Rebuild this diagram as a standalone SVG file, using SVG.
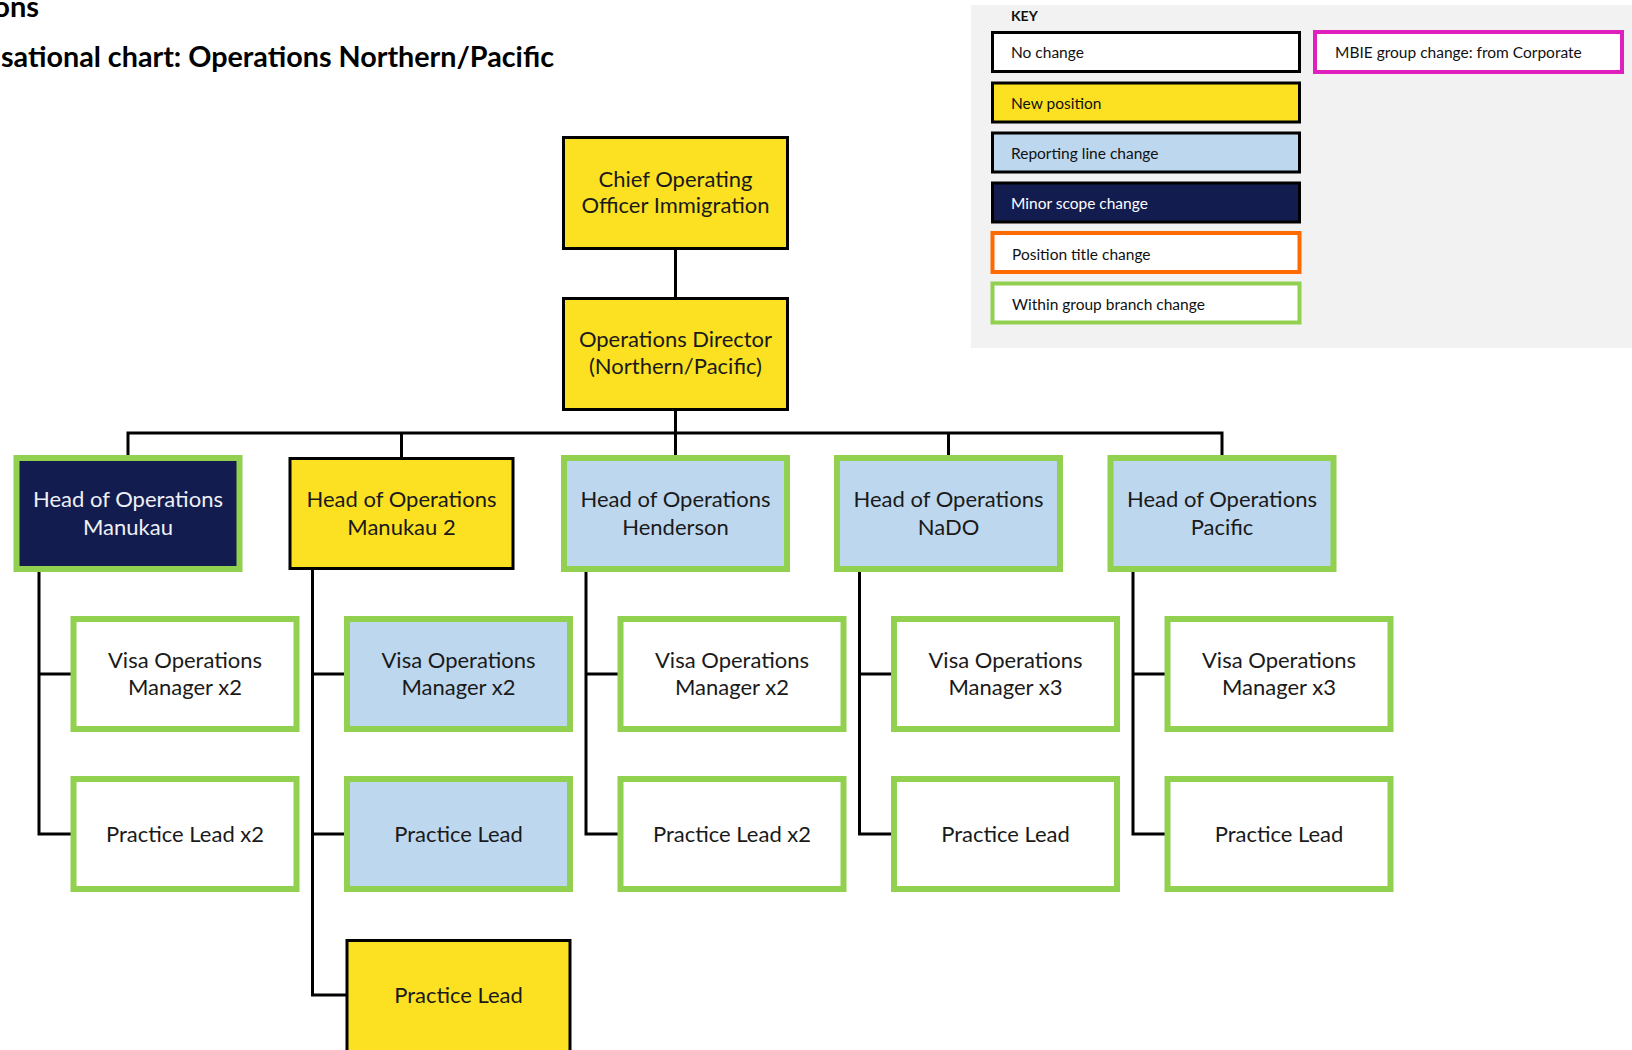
<svg xmlns="http://www.w3.org/2000/svg" width="1632" height="1050" viewBox="0 0 1632 1050">
  <style>
    .title { font-family: "Lato", "Liberation Sans", sans-serif; font-weight: bold; font-size: 29px; fill: #000; }
    .lbl { font-family: "Lato", "Liberation Sans", sans-serif; font-size: 22px; fill: #1a1a1a; text-anchor: middle; }
    .lbl.light { fill: #eef0f6; }
    .key { font-family: "Lato", "Liberation Sans", sans-serif; font-size: 15.5px; fill: #111; }
    .keyhead { font-family: "Lato", "Liberation Sans", sans-serif; font-size: 14px; font-weight: bold; fill: #111; }
    .yellow { fill: #FBE122; stroke: #000; stroke-width: 3; }
    .blue-g { fill: #BDD7EE; stroke: #92D050; stroke-width: 6; }
    .white-g { fill: #fff; stroke: #92D050; stroke-width: 6; }
    .navy-g { fill: #121C4E; stroke: #92D050; stroke-width: 6; }
    .conn { fill: none; stroke: #000; stroke-width: 3; }
    .k-white { fill: #fff; stroke: #000; stroke-width: 3; }
    .k-yellow { fill: #FBE122; stroke: #000; stroke-width: 3; }
    .k-blue { fill: #BDD7EE; stroke: #000; stroke-width: 3; }
    .k-navy { fill: #121C4E; stroke: #000; stroke-width: 3; }
    .k-orange { fill: #fff; stroke: #FF6A00; stroke-width: 4; }
    .k-green { fill: #fff; stroke: #92D050; stroke-width: 4; }
    .k-magenta { fill: #fff; stroke: #E01FBF; stroke-width: 4; }
  </style>

  <rect width="1632" height="1050" fill="#fff"/>

  <!-- heading -->
  <text class="title" x="39" y="17" text-anchor="end">ons</text>
  <text class="title" x="1" y="67" textLength="553" lengthAdjust="spacingAndGlyphs">sational chart: Operations Northern/Pacific</text>

  <!-- key panel -->
  <g id="key">
    <rect x="971" y="5" width="661" height="343" fill="#F2F2F2"/>
    <text class="keyhead" x="1011" y="21">KEY</text>
    <rect class="k-white" x="992.5" y="32.5" width="307" height="39"/>
    <text class="key" x="1011" y="58">No change</text>
    <rect class="k-yellow" x="992.5" y="83" width="307" height="39"/>
    <text class="key" x="1011" y="109">New position</text>
    <rect class="k-blue" x="992.5" y="133" width="307" height="39"/>
    <text class="key" x="1011" y="159">Reporting line change</text>
    <rect class="k-navy" x="992.5" y="183" width="307" height="39"/>
    <text class="key" x="1011" y="209" style="fill:#fff">Minor scope change</text>
    <rect class="k-orange" x="992.5" y="233" width="307" height="39"/>
    <text class="key" x="1012" y="260">Position title change</text>
    <rect class="k-green" x="992.5" y="283.5" width="307" height="39"/>
    <text class="key" x="1012" y="310">Within group branch change</text>
    <rect class="k-magenta" x="1315" y="32" width="307" height="40"/>
    <text class="key" x="1335" y="58">MBIE group change: from Corporate</text>
  </g>

  <!-- reporting lines -->
  <g id="connectors">
    <path class="conn" d="M675.5 250 V298.5"/>
    <path class="conn" d="M675.5 409.5 V433"/>
    <path class="conn" d="M128 458 V433 H1222 V458"/>
    <path class="conn" d="M401.5 433 V458"/>
    <path class="conn" d="M675.5 433 V458"/>
    <path class="conn" d="M948.5 433 V458"/>
    <!-- branch spines -->
    <path class="conn" d="M39 569 V834 H73"/>
    <path class="conn" d="M39 674 H73"/>
    <path class="conn" d="M312.5 569 V995 H348"/>
    <path class="conn" d="M312.5 674 H347"/>
    <path class="conn" d="M312.5 834 H347"/>
    <path class="conn" d="M586 569 V834 H620"/>
    <path class="conn" d="M586 674 H620"/>
    <path class="conn" d="M859.5 569 V834 H894"/>
    <path class="conn" d="M859.5 674 H894"/>
    <path class="conn" d="M1133 569 V834 H1167"/>
    <path class="conn" d="M1133 674 H1167"/>
  </g>

  <!-- top of structure -->
  <g id="coo">
    <rect class="yellow" x="563.5" y="137.5" width="224" height="111"/>
    <text class="lbl" x="675.5" y="187">Chief Operating</text>
    <text class="lbl" x="675.5" y="213">Officer Immigration</text>
  </g>
  <g id="ops-director">
    <rect class="yellow" x="563.5" y="298.5" width="224" height="111"/>
    <text class="lbl" x="675.5" y="347">Operations Director</text>
    <text class="lbl" x="675.5" y="374">(Northern/Pacific)</text>
  </g>

  <!-- heads of operations -->
  <g id="head-manukau">
    <rect class="navy-g" x="16.5" y="458" width="223" height="111"/>
    <text class="lbl light" x="128" y="507">Head of Operations</text>
    <text class="lbl light" x="128" y="535">Manukau</text>
  </g>
  <g id="head-manukau-2">
    <rect class="yellow" x="290" y="458.5" width="223" height="110"/>
    <text class="lbl" x="401.5" y="507">Head of Operations</text>
    <text class="lbl" x="401.5" y="535">Manukau 2</text>
  </g>
  <g id="head-henderson">
    <rect class="blue-g" x="564" y="458" width="223" height="111"/>
    <text class="lbl" x="675.5" y="507">Head of Operations</text>
    <text class="lbl" x="675.5" y="535">Henderson</text>
  </g>
  <g id="head-nado">
    <rect class="blue-g" x="837" y="458" width="223" height="111"/>
    <text class="lbl" x="948.5" y="507">Head of Operations</text>
    <text class="lbl" x="948.5" y="535">NaDO</text>
  </g>
  <g id="head-pacific">
    <rect class="blue-g" x="1110.5" y="458" width="223" height="111"/>
    <text class="lbl" x="1222" y="507">Head of Operations</text>
    <text class="lbl" x="1222" y="535">Pacific</text>
  </g>

  <!-- Manukau team -->
  <g id="manukau-vom">
    <rect class="white-g" x="73.5" y="619" width="223" height="110"/>
    <text class="lbl" x="185" y="668">Visa Operations</text>
    <text class="lbl" x="185" y="695">Manager x2</text>
  </g>
  <g id="manukau-pl">
    <rect class="white-g" x="73.5" y="779" width="223" height="110"/>
    <text class="lbl" x="185" y="842">Practice Lead x2</text>
  </g>

  <!-- Manukau 2 team -->
  <g id="manukau2-vom">
    <rect class="blue-g" x="347" y="619" width="223" height="110"/>
    <text class="lbl" x="458.5" y="668">Visa Operations</text>
    <text class="lbl" x="458.5" y="695">Manager x2</text>
  </g>
  <g id="manukau2-pl">
    <rect class="blue-g" x="347" y="779" width="223" height="110"/>
    <text class="lbl" x="458.5" y="842">Practice Lead</text>
  </g>
  <g id="manukau2-pl-new">
    <rect class="yellow" x="347" y="940.5" width="223" height="111"/>
    <text class="lbl" x="458.5" y="1003">Practice Lead</text>
  </g>

  <!-- Henderson team -->
  <g id="henderson-vom">
    <rect class="white-g" x="620.5" y="619" width="223" height="110"/>
    <text class="lbl" x="732" y="668">Visa Operations</text>
    <text class="lbl" x="732" y="695">Manager x2</text>
  </g>
  <g id="henderson-pl">
    <rect class="white-g" x="620.5" y="779" width="223" height="110"/>
    <text class="lbl" x="732" y="842">Practice Lead x2</text>
  </g>

  <!-- NaDO team -->
  <g id="nado-vom">
    <rect class="white-g" x="894" y="619" width="223" height="110"/>
    <text class="lbl" x="1005.5" y="668">Visa Operations</text>
    <text class="lbl" x="1005.5" y="695">Manager x3</text>
  </g>
  <g id="nado-pl">
    <rect class="white-g" x="894" y="779" width="223" height="110"/>
    <text class="lbl" x="1005.5" y="842">Practice Lead</text>
  </g>

  <!-- Pacific team -->
  <g id="pacific-vom">
    <rect class="white-g" x="1167.5" y="619" width="223" height="110"/>
    <text class="lbl" x="1279" y="668">Visa Operations</text>
    <text class="lbl" x="1279" y="695">Manager x3</text>
  </g>
  <g id="pacific-pl">
    <rect class="white-g" x="1167.5" y="779" width="223" height="110"/>
    <text class="lbl" x="1279" y="842">Practice Lead</text>
  </g>
</svg>
